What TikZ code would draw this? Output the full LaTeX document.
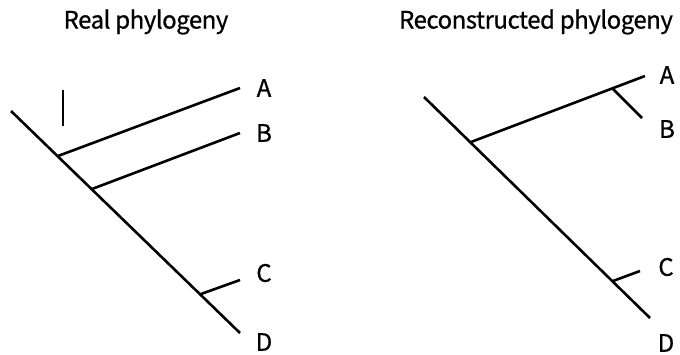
\documentclass[tikz,border=0pt]{standalone}
\usepackage{fontspec}
\setmainfont{Noto Sans CJK KR}[FakeBold=0.7,LetterSpace=-2]
\begin{document}
\begin{tikzpicture}[x=1pt,y=-1pt,
    branch/.style={line width=2.6pt},
    label/.style={font=\fontsize{24}{27}\selectfont, inner sep=0pt}]
    \useasboundingbox (0,0) rectangle (680,355);

    % Real phylogeny
    \node[label] (titleR) at (146,22) {Real phylogeny};
    \coordinate (rootR) at (11,111);
    \coordinate (abR) at (58,156);
    \coordinate (bR) at (92,189);
    \coordinate (cR) at (201,294);
    \coordinate (endAR) at (240,88);
    \coordinate (endBR) at (240,133);
    \coordinate (endCR) at (240,280);
    \coordinate (endDR) at (240,333);
    \draw[branch] (rootR) -- (endDR);
    \draw[branch] (abR) -- (endAR);
    \draw[branch] (bR) -- (endBR);
    \draw[branch] (cR) -- (endCR);
    \coordinate (markTop) at (63,90);
    \coordinate (markBot) at (63,126);
    \draw[line width=1.3pt] (markTop) -- (markBot);
    \node[label] (tipAR) at (264,88) {A};
    \node[label] (tipBR) at (264,133) {B};
    \node[label] (tipCR) at (264,273) {C};
    \node[label] (tipDR) at (264,342) {D};

    % Reconstructed phylogeny
    \node[label] (titleC) at (536,22) {Reconstructed phylogeny};
    \coordinate (rootC) at (424,97);
    \coordinate (abC) at (471,142);
    \coordinate (bC) at (613,89);
    \coordinate (cC) at (613,281);
    \coordinate (endAC) at (645,76);
    \coordinate (endBC) at (642,118);
    \coordinate (endCC) at (640,271);
    \coordinate (endDC) at (650,318);
    \draw[branch] (rootC) -- (endDC);
    \draw[branch] (abC) -- (endAC);
    \draw[branch] (bC) -- (endBC);
    \draw[branch] (cC) -- (endCC);
    \node[label] (tipAC) at (667,75) {A};
    \node[label] (tipBC) at (667,129) {B};
    \node[label] (tipCC) at (666,267) {C};
    \node[label] (tipDC) at (666,343) {D};
\end{tikzpicture}
\end{document}
